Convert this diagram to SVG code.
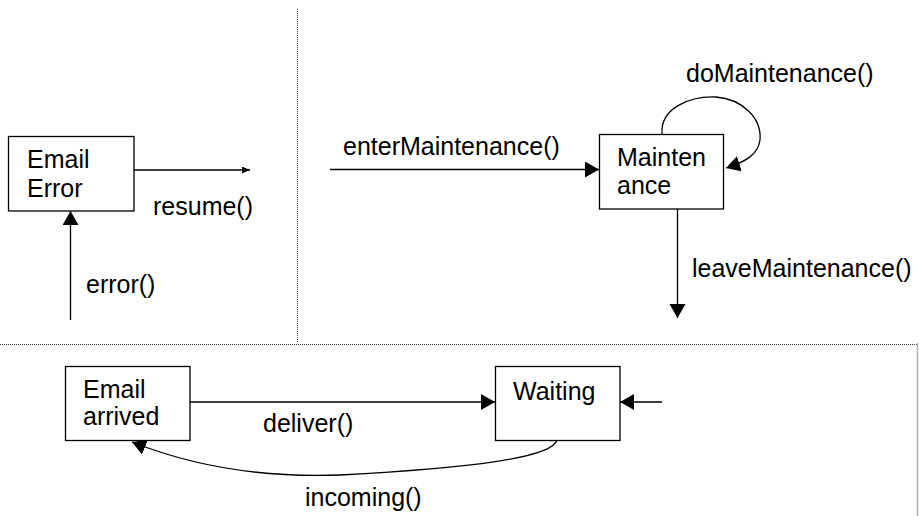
<svg xmlns="http://www.w3.org/2000/svg" width="919" height="516" viewBox="0 0 919 516">
  <style>
    .box { fill: #ffffff; stroke: #000000; stroke-width: 1.3; }
    .lbl { font-family: "Liberation Sans", Arial, sans-serif; font-size: 25px; fill: #000000; }
    .edge { fill: none; stroke: #000000; stroke-width: 1.3; }
    .sep { fill: none; stroke: #333333; stroke-width: 1; stroke-dasharray: 1 1; }
  </style>
  <defs>
    <marker id="head" markerUnits="userSpaceOnUse" markerWidth="15" markerHeight="18" refX="14" refY="8" orient="auto">
      <path d="M0,0 L14,8 L0,16 z" fill="#000000"/>
    </marker>
    <marker id="headSmall" markerUnits="userSpaceOnUse" markerWidth="9" markerHeight="8" refX="8" refY="3.5" orient="auto">
      <path d="M0,0 L8,3.5 L0,7 z" fill="#000000"/>
    </marker>
  </defs>
  <rect width="919" height="516" fill="#ffffff"/>

  <!-- region separators -->
  <g id="separators">
    <line class="sep" x1="297.5" y1="9" x2="297.5" y2="343"/>
    <line class="sep" x1="0" y1="344.5" x2="917" y2="344.5"/>
    <line x1="917.5" y1="343" x2="917.5" y2="516" stroke="#b0b0b0" stroke-width="1.5"/>
  </g>

  <!-- connectors -->
  <g id="connectors">
    <line class="edge" x1="134" y1="170" x2="250" y2="170" marker-end="url(#headSmall)"/>
    <line class="edge" x1="70.5" y1="320" x2="70.5" y2="211" marker-end="url(#head)"/>
    <line class="edge" x1="330" y1="169.5" x2="599" y2="169.5" marker-end="url(#head)"/>
    <path class="edge" d="M662,134 C660,108 690,96 716,97 C742,99 762,118 760,140 C758,155 745,162 726,168" marker-end="url(#head)"/>
    <line class="edge" x1="677.5" y1="209" x2="677.5" y2="318" marker-end="url(#head)"/>
    <line class="edge" x1="190" y1="402" x2="495" y2="402" marker-end="url(#head)"/>
    <line class="edge" x1="662" y1="402" x2="620" y2="402" marker-end="url(#head)"/>
    <path class="edge" d="M557,440 C552,458 470,468 340,475 C260,478 190,465 132,442" marker-end="url(#head)"/>
  </g>

  <!-- connector labels -->
  <g id="edge-labels">
    <text class="lbl" x="153" y="215">resume()</text>
    <text class="lbl" x="86" y="293">error()</text>
    <text class="lbl" x="343" y="155">enterMaintenance()</text>
    <text class="lbl" x="686" y="82">doMaintenance()</text>
    <text class="lbl" x="692" y="277">leaveMaintenance()</text>
    <text class="lbl" x="263" y="432">deliver()</text>
    <text class="lbl" x="305" y="506">incoming()</text>
  </g>

  <g id="email-error">
    <rect class="box" x="8.5" y="136.5" width="125.5" height="74.5"/>
    <text class="lbl" x="27" y="168">Email</text>
    <text class="lbl" x="27" y="197">Error</text>
  </g>

  <g id="maintenance">
    <rect class="box" x="599.5" y="134.5" width="124" height="74.5"/>
    <text class="lbl" x="617" y="166">Mainten</text>
    <text class="lbl" x="617" y="194">ance</text>
  </g>

  <g id="email-arrived">
    <rect class="box" x="65.5" y="366.5" width="124.5" height="74"/>
    <text class="lbl" x="83" y="398">Email</text>
    <text class="lbl" x="83" y="425">arrived</text>
  </g>

  <g id="waiting">
    <rect class="box" x="495.5" y="366.5" width="124.5" height="74"/>
    <text class="lbl" x="513" y="400">Waiting</text>
  </g>
</svg>
